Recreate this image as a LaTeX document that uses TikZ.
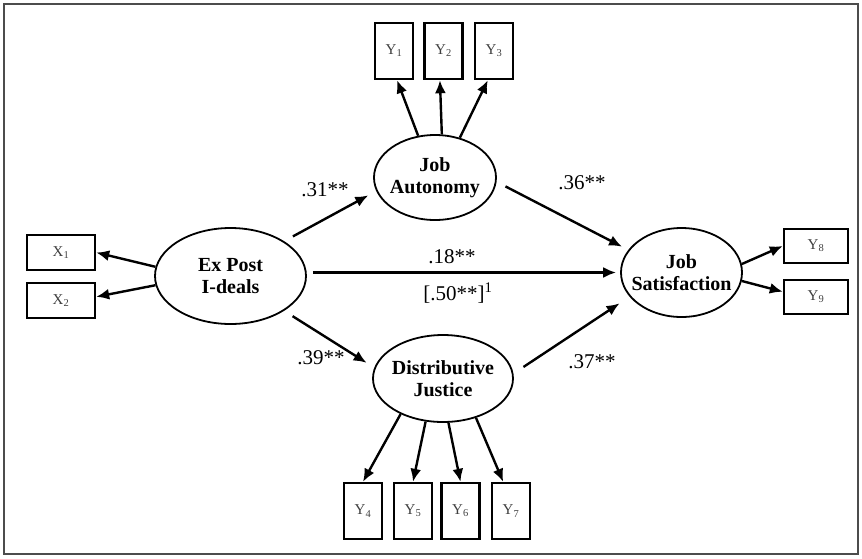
\documentclass[tikz,border=0pt]{standalone}
\usepackage{fontspec}
\setmainfont{Liberation Serif}
\usetikzlibrary{shapes.geometric,arrows.meta}

\begin{document}
\begin{tikzpicture}[
  x=1pt,y=-1pt,
  every node/.style={font=\fontsize{15}{17}\selectfont},
  lat/.style={ellipse,draw,line width=1.8pt,inner xsep=-12pt,inner ysep=0pt,
    align=center,font=\fontsize{20}{22}\selectfont\bfseries},
  ind/.style={rectangle,draw,line width=2.4pt,minimum width=38pt,
    minimum height=56pt,inner sep=0pt,text=black!75},
  wide/.style={ind,minimum height=35pt},
  arr/.style={draw,line width=2.4pt,-{Latex[length=13pt,width=11pt]}},
  coef/.style={font=\fontsize{21}{23}\selectfont}]

\useasboundingbox (0,0) rectangle (862,558);
\draw[black!70,line width=1.2pt] (4,4) rectangle (858,554);

% ---- latent variables ----
\node[lat,minimum width=151pt,minimum height=96pt] (ep) at (230.5,276)  {Ex Post\\I-deals};
\node[lat,minimum width=122pt,minimum height=85pt] (ja) at (435,177.5)  {Job\\Autonomy};
\node[lat,minimum width=140pt,minimum height=87pt] (dj) at (443,378.5)  {Distributive\\Justice};
\node[lat,minimum width=121pt,minimum height=89pt] (js) at (681.5,272.5){Job\\Satisfaction};

% ---- indicators ----
\node[wide,minimum width=68pt] (x1) at (61,252.5) {X\textsubscript{1}};
\node[wide,minimum width=68pt] (x2) at (61,300.5) {X\textsubscript{2}};
\node[ind] (y1) at (394,51)    {Y\textsubscript{1}};
\node[ind] (y2) at (443.5,51)  {Y\textsubscript{2}};
\node[ind] (y3) at (494,51)    {Y\textsubscript{3}};
\node[ind] (y4) at (363,511)   {Y\textsubscript{4}};
\node[ind] (y5) at (413,511)   {Y\textsubscript{5}};
\node[ind] (y6) at (460.5,511) {Y\textsubscript{6}};
\node[ind] (y7) at (511,511)   {Y\textsubscript{7}};
\node[wide,minimum width=64pt,minimum height=34pt] (y8) at (816,246) {Y\textsubscript{8}};
\node[wide,minimum width=64pt,minimum height=34pt] (y9) at (816,297) {Y\textsubscript{9}};

% ---- measurement paths ----
\foreach \s/\t in {ep.173/x1.east,ep.187/x2.6,ja.112/y1.276,ja.81/y2.263,ja.58/y3.258,
  dj.220/y4.north,dj.248/y5.north,dj.277/y6.north,dj.310/y7.105,js.8.7/y8.west,js.-8.7/y9.171}
  \draw[arr] (\s) -- (\t);

% ---- structural paths ----
\draw[arr,shorten <=10pt,shorten >=9pt] (ep.33) -- (ja.193);
\draw[arr,shorten <=10pt,shorten >=9pt] (ep.-33) -- (dj.171);
\draw[arr,shorten <=6pt,shorten >=4pt] (ep.east |- js.west) -- (js.west);
\draw[arr,shorten <=10pt,shorten >=7pt] (ja.-4.5) -- (js.157.6);
\draw[arr,shorten <=12pt,shorten >=12pt] (dj.4) -- (js.205.6);

% ---- coefficients ----
\node[coef] (c31) at (325,190) {.31**};
\node[coef] (c36) at (582,183) {.36**};
\node[coef] (c18) at (452,257) {.18**};
\node[coef] (c50) at (458,293) {[.50**]\textsuperscript{1}};
\node[coef] (c39) at (321,358) {.39**};
\node[coef] (c37) at (592,362) {.37**};
\end{tikzpicture}
\end{document}
